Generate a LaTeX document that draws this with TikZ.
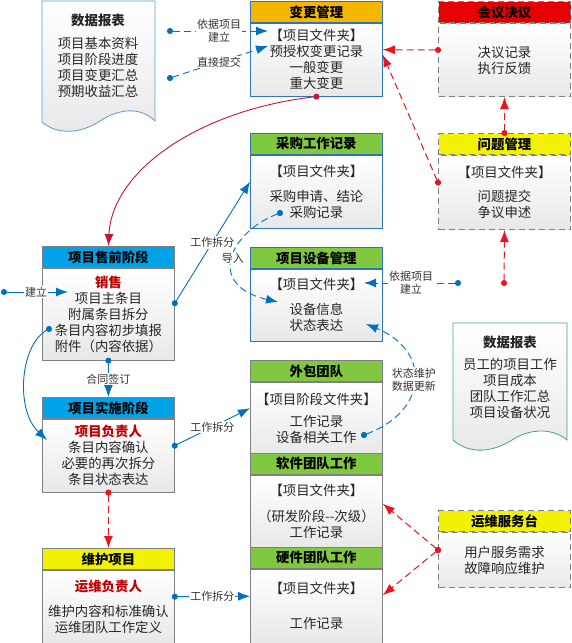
\documentclass[tikz,border=0pt]{standalone}
\usepackage{fontspec}
\setmainfont{Noto Sans CJK SC}
\usepackage{xcolor}
\usepackage{tikz}
\usetikzlibrary{arrows.meta, positioning}

\definecolor{hdrblue}{RGB}{0,162,232}
\definecolor{hdrorange}{RGB}{245,182,0}
\definecolor{hdrred}{RGB}{232,0,0}
\definecolor{hdryellow}{RGB}{242,242,0}
\definecolor{hdrgreen}{RGB}{128,200,64}
\definecolor{lineblue}{RGB}{0,112,192}
\definecolor{linered}{RGB}{235,20,30}
\definecolor{curvered}{RGB}{200,20,50}
\definecolor{borderblue}{RGB}{46,117,182}
\definecolor{bordergray}{RGB}{128,128,128}
\definecolor{repblue}{RGB}{91,155,213}
\definecolor{repgreen}{RGB}{60,170,110}
\definecolor{leadred}{RGB}{192,0,0}

\newcommand{\leadname}[1]{\textcolor{leadred}{\bfseries #1}}

\begin{document}
\begin{tikzpicture}[x=1pt, y=-1pt,
    hdr/.style={draw=bordergray, line width=0.8pt, minimum width=132pt, minimum height=21pt, inner sep=0pt, anchor=north west, font=\fontsize{13.4}{15}\selectfont\bfseries},
    body/.style={draw=bordergray, line width=0.8pt, minimum width=132pt, inner sep=0pt, align=center, top color=white, bottom color=black!9, text=black!85, font=\fontsize{13.4}{16}\selectfont},
    bluebox/.style={draw=borderblue},
    dashbox/.style={draw=black!50, line width=1pt, dash pattern=on 6pt off 4pt},
    report/.style={line width=0.8pt, top color=white, bottom color=black!9},
    rtext/.style={align=center, text=black!85, font=\fontsize{13.4}{16}\selectfont},
    lbl/.style={fill=white, inner sep=1pt, align=center, text=black!80, font=\fontsize{11}{13}\selectfont},
    bline/.style={lineblue, line width=0.9pt, shorten <=-3pt, {Circle[length=6pt]}-{Latex[length=12pt, width=9pt]}},
    bdash/.style={bline, dash pattern=on 7pt off 4pt},
    rdash/.style={linered, line width=1pt, shorten <=-3pt, dash pattern=on 7pt off 4pt, {Circle[length=6pt]}-{Latex[length=12pt, width=9pt]}},
    rcurve/.style={curvered, line width=0.9pt, shorten <=-3pt, {Circle[length=6pt]}-{Latex[length=12pt, width=9pt]}}
]
    \useasboundingbox (0,0) rectangle (571,643);

    % Data reports
    \draw[report, draw=repblue] (42,1) -- (155,1) -- (155,121)
        .. controls (140,106) and (118,109) .. (100,121)
        .. controls (82,133) and (58,136) .. (42,122) -- cycle;
    \node[rtext, font=\fontsize{13.4}{16}\selectfont\bfseries] (rep1-t) at (98,20) {数据报表};
    \node[rtext] (rep1) at (98,67) {项目基本资料\\项目阶段进度\\项目变更汇总\\预期收益汇总};

    \draw[report, draw=repgreen] (453,323) -- (567,323) -- (567,440)
        .. controls (553,428) and (530,428) .. (512,440)
        .. controls (493,452) and (470,455) .. (453,440) -- cycle;
    \node[rtext, font=\fontsize{13.4}{16}\selectfont\bfseries] (rep2-t) at (510,342) {数据报表};
    \node[rtext] (rep2) at (510,388) {员工的项目工作\\项目成本\\团队工作汇总\\项目设备状况};

    % Change management
    \node[hdr, bluebox, fill=hdrorange] (chg-h) at (250,1) {变更管理};
    \node[body, bluebox, minimum height=73pt, below=0pt of chg-h] (chg) {【项目文件夹】\\预授权变更记录\\一般变更\\重大变更};

    % Meeting and issues
    \node[hdr, dashbox, fill=hdrred] (mtg-h) at (438,1) {会议决议};
    \node[body, dashbox, minimum height=73pt, below=0pt of mtg-h] (mtg) {决议记录\\执行反馈};
    \node[hdr, dashbox, fill=hdryellow] (iss-h) at (438,133) {问题管理};
    \node[body, dashbox, minimum height=74pt, below=0pt of iss-h] (iss) {【项目文件夹】\\[8pt]问题提交\\争议申述};

    % Purchase and devices
    \node[hdr, bluebox, fill=hdrgreen] (pur-h) at (250,133) {采购工作记录};
    \node[body, bluebox, minimum height=73pt, below=0pt of pur-h] (pur) {【项目文件夹】\\[9pt]采购申请、结论\\采购记录};
    \node[hdr, bluebox, fill=hdrgreen] (dev-h) at (250,247) {项目设备管理};
    \node[body, bluebox, minimum height=72pt, below=0pt of dev-h] (dev) {【项目文件夹】\\[9pt]设备信息\\状态表达};

    % Project stages
    \node[hdr, fill=hdrblue] (pre-h) at (42,246) {项目售前阶段};
    \node[body, minimum height=92pt, below=0pt of pre-h] (pre) {\leadname{销售}\\项目主条目\\附属条目拆分\\条目内容初步填报\\附件（内容依据）};
    \node[hdr, fill=hdrblue] (impl-h) at (42,397) {项目实施阶段};
    \node[body, minimum height=73pt, below=0pt of impl-h] (impl) {\leadname{项目负责人}\\条目内容确认\\必要的再次拆分\\条目状态表达};
    \node[hdr, fill=hdryellow] (mnt-h) at (42,548) {维护项目};
    \node[body, minimum height=73pt, below=0pt of mnt-h] (mnt) {\leadname{运维负责人}\\[9pt]维护内容和标准确认\\运维团队工作定义};

    % Teams
    \node[hdr, fill=hdrgreen] (out-h) at (250,360) {外包团队};
    \node[body, minimum height=72pt, below=0pt of out-h] (out) {【项目阶段文件夹】\\[6pt]工作记录\\设备相关工作};
    \node[hdr, fill=hdrgreen] (sw-h) at (250,453) {软件团队工作};
    \node[body, minimum height=73pt, below=0pt of sw-h] (sw) {【项目文件夹】\\[10pt]（研发阶段-{}-次级）\\工作记录};
    \node[hdr, fill=hdrgreen] (hw-h) at (250,547) {硬件团队工作};
    \node[body, minimum height=74pt, below=0pt of hw-h] (hw) {【项目文件夹】\\[19pt]工作记录};

    % Service desk
    \node[hdr, dashbox, fill=hdryellow] (desk-h) at (438,510) {运维服务台};
    \node[body, dashbox, minimum height=55pt, below=0pt of desk-h] (desk) {用户服务需求\\故障响应维护};

    % Free ends
    \coordinate (rep-a) at (170,31);
    \coordinate (rep-b) at (170,78);
    \coordinate (chg-in1) at (268,31);
    \coordinate (chg-in2) at (268,46);
    \coordinate (iss-sub) at (504,283);
    \coordinate (dev-src) at (458,283);
    \coordinate (dev-in) at (364,283);
    \coordinate (imp-s) at (280,213);
    \coordinate (imp-e) at (278,302);
    \coordinate (new-s) at (4,292);
    \coordinate (new-e) at (68,292);
    \coordinate (pre-cut) at (49,329);
    \coordinate (impl-in) at (47,440);
    \coordinate (st-s) at (364,435);
    \coordinate (st-e) at (366,324);

    % Connections
    \draw[bdash] (rep-a) -- node[lbl] {依据项目\\建立} (chg-in1);
    \draw[bdash] (rep-b) -- node[lbl] {直接提交} (chg-in2);
    \draw[rdash] ([yshift=10pt]mtg.west) -- ([yshift=10pt]chg.east);
    \draw[rdash] ([yshift=10pt]iss.west) -- ([yshift=5pt]chg.east);
    \draw[rdash] (iss-h.north) -- (mtg.south);
    \draw[rdash] (iss-sub) -- (iss.south);
    \draw[rcurve] (chg.south) .. controls (200,110) and (112,170) .. (pre-h.north);
    \draw[bdash] (dev-src) -- node[lbl] {依据项目\\建立} (dev-in);
    \draw[bline] ([yshift=11pt]pre.east) -- node[lbl] {工作拆分} ([yshift=10pt]pur.west);
    \draw[bdash] (imp-s) .. controls (230,232) and (205,285) .. node[lbl] {导入} (imp-e);
    \draw[bline] (new-s) -- node[lbl] {建立} (new-e);
    \draw[bline] (pre-cut) .. controls (20,345) and (15,410) .. (impl-in);
    \draw[bline] (pre.south) -- node[lbl] {合同签订} (impl-h.north);
    \draw[bline] ([yshift=10pt]impl.east) -- node[lbl] {工作拆分} ([yshift=10pt]out.west);
    \draw[bdash] (st-s) .. controls (430,410) and (430,350) .. node[lbl] {状态维护\\数据更新} (st-e);
    \draw[rdash] (impl.south) -- (mnt-h.north);
    \draw[bline] ([yshift=10pt]mnt.east) -- node[lbl] {工作拆分} ([yshift=10pt]hw.west);
    \draw[rdash] ([yshift=10pt]desk.west) -- ([yshift=8pt]sw.east);
    \draw[rdash] ([yshift=10pt]desk.west) -- ([yshift=11pt]hw.east);
\end{tikzpicture}
\end{document}
